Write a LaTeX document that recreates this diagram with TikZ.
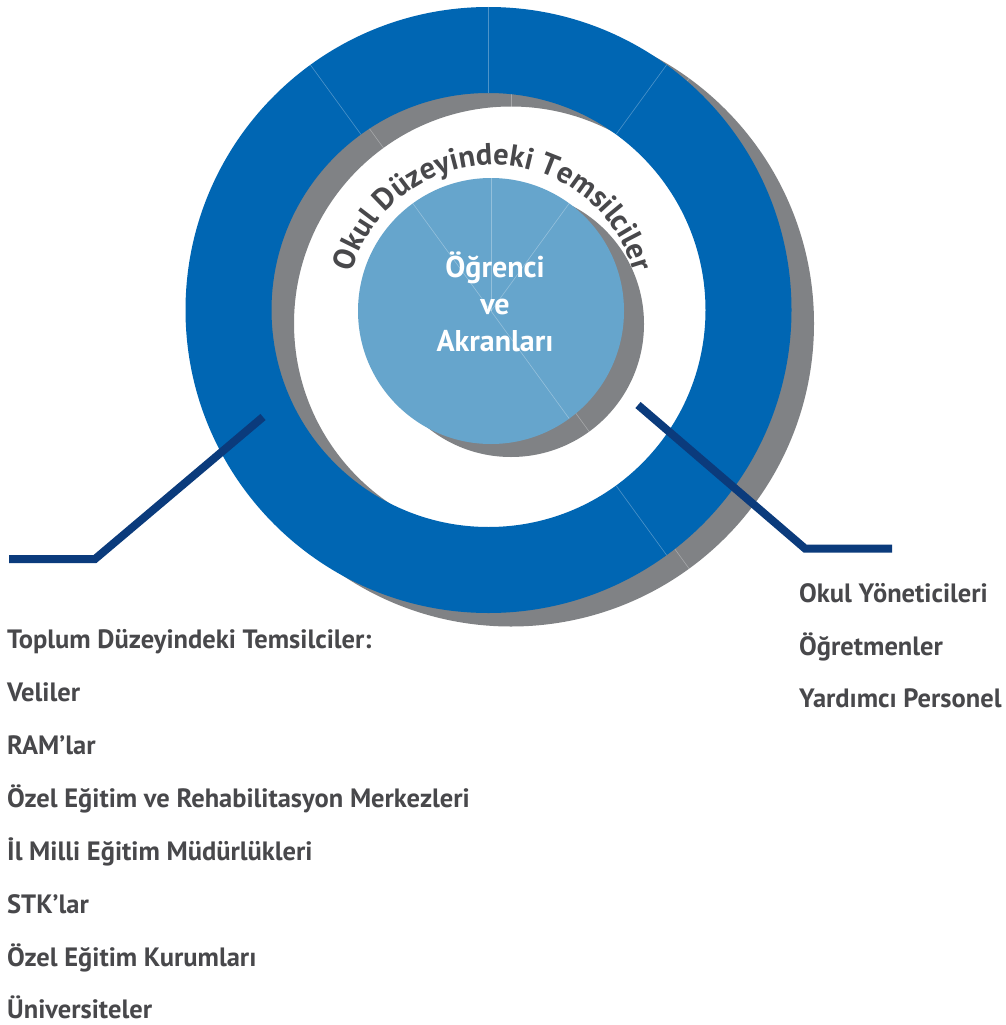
\documentclass[tikz,border=0pt]{standalone}
\usepackage{fontspec}
\setmainfont{PT Sans}
\usetikzlibrary{decorations.text,calc}
\definecolor{ringblue}{RGB}{0,102,179}
\definecolor{shadowgray}{RGB}{128,130,133}
\definecolor{lightblue}{RGB}{102,165,204}
\definecolor{navy}{RGB}{11,59,124}
\definecolor{textgray}{RGB}{72,72,75}
\begin{document}
\begin{tikzpicture}[x=1pt,y=1pt,
  listtext/.style={anchor=base west, inner sep=0pt, text=textgray, font=\fontsize{26.5}{30}\selectfont\bfseries},
  centertext/.style={anchor=base, inner sep=0pt, text=white, font=\fontsize{30}{34}\selectfont\bfseries},
  seg/.style={white, opacity=0.3, line width=0.6pt},
  connector/.style={navy, line width=8pt, line cap=butt, line join=miter}]
\useasboundingbox (0,0) rectangle (1005,-1025);
\fill[white] (0,0) rectangle (1005,-1025);
% centres
\coordinate (C) at (488.5,-310);
\coordinate (CS) at (511,-323.5);
\coordinate (I) at (491,-311);
\coordinate (IS) at (511,-324);
\coordinate (T) at (493,-311);
% ring shadow
\fill[shadowgray, even odd rule] (CS) circle (303) (CS) circle (217);
\foreach \a in {54,90,126,306}
  \draw[seg] ($(CS)+(\a:217)$) -- ($(CS)+(\a:303)$);
% blue ring
\fill[ringblue, even odd rule] (C) circle (303) (C) circle (217);
\foreach \a in {54,90,126,306}
  \draw[seg] ($(C)+(\a:217)$) -- ($(C)+(\a:303)$);
% inner circle shadow and circle
\fill[shadowgray] (IS) circle (133);
\draw[seg] (IS) -- ($(IS)+(306:133)$);
\fill[lightblue] (I) circle (133);
\foreach \a in {54,90,126,306}
  \draw[seg] (I) -- ($(I)+(\a:133)$);
% arc text
\path[decorate, decoration={text along path, text align=center,
  text={|\fontsize{30.5}{30.5}\selectfont\bfseries\color{textgray}|Okul Düzeyindeki Temsilciler}}]
  ($(T)+(180:146)$) arc (180:0:146);
% centre text
\node[centertext] (c1) at (495,-277) {Öğrenci};
\node[centertext] (c2) at (495,-314) {ve};
\node[centertext] (c3) at (495,-351) {Akranları};
% connectors
\coordinate (L1) at (9,-559);
\coordinate (L2) at (95,-559);
\coordinate (L3) at (263,-417);
\draw[connector] (L1) -- (L2) -- (L3);
\coordinate (R1) at (638,-405);
\coordinate (R2) at (805,-548.5);
\coordinate (R3) at (892,-548.5);
\draw[connector] (R1) -- (R2) -- (R3);
% right list
\node[listtext] (r1) at (799,-602) {Okul Yöneticileri};
\node[listtext] (r2) at (799,-655) {Öğretmenler};
\node[listtext] (r3) at (799,-707) {Yardımcı Personel};
% left list
\node[listtext] (l1) at (7,-648) {Toplum Düzeyindeki Temsilciler:};
\node[listtext] (l2) at (7,-701) {Veliler};
\node[listtext] (l3) at (7,-754) {RAM’lar};
\node[listtext] (l4) at (7,-807) {Özel Eğitim ve Rehabilitasyon Merkezleri};
\node[listtext] (l5) at (7,-860) {İl Milli Eğitim Müdürlükleri};
\node[listtext] (l6) at (7,-913) {STK’lar};
\node[listtext] (l7) at (7,-966) {Özel Eğitim Kurumları};
\node[listtext] (l8) at (7,-1018) {Üniversiteler};
\end{tikzpicture}
\end{document}
